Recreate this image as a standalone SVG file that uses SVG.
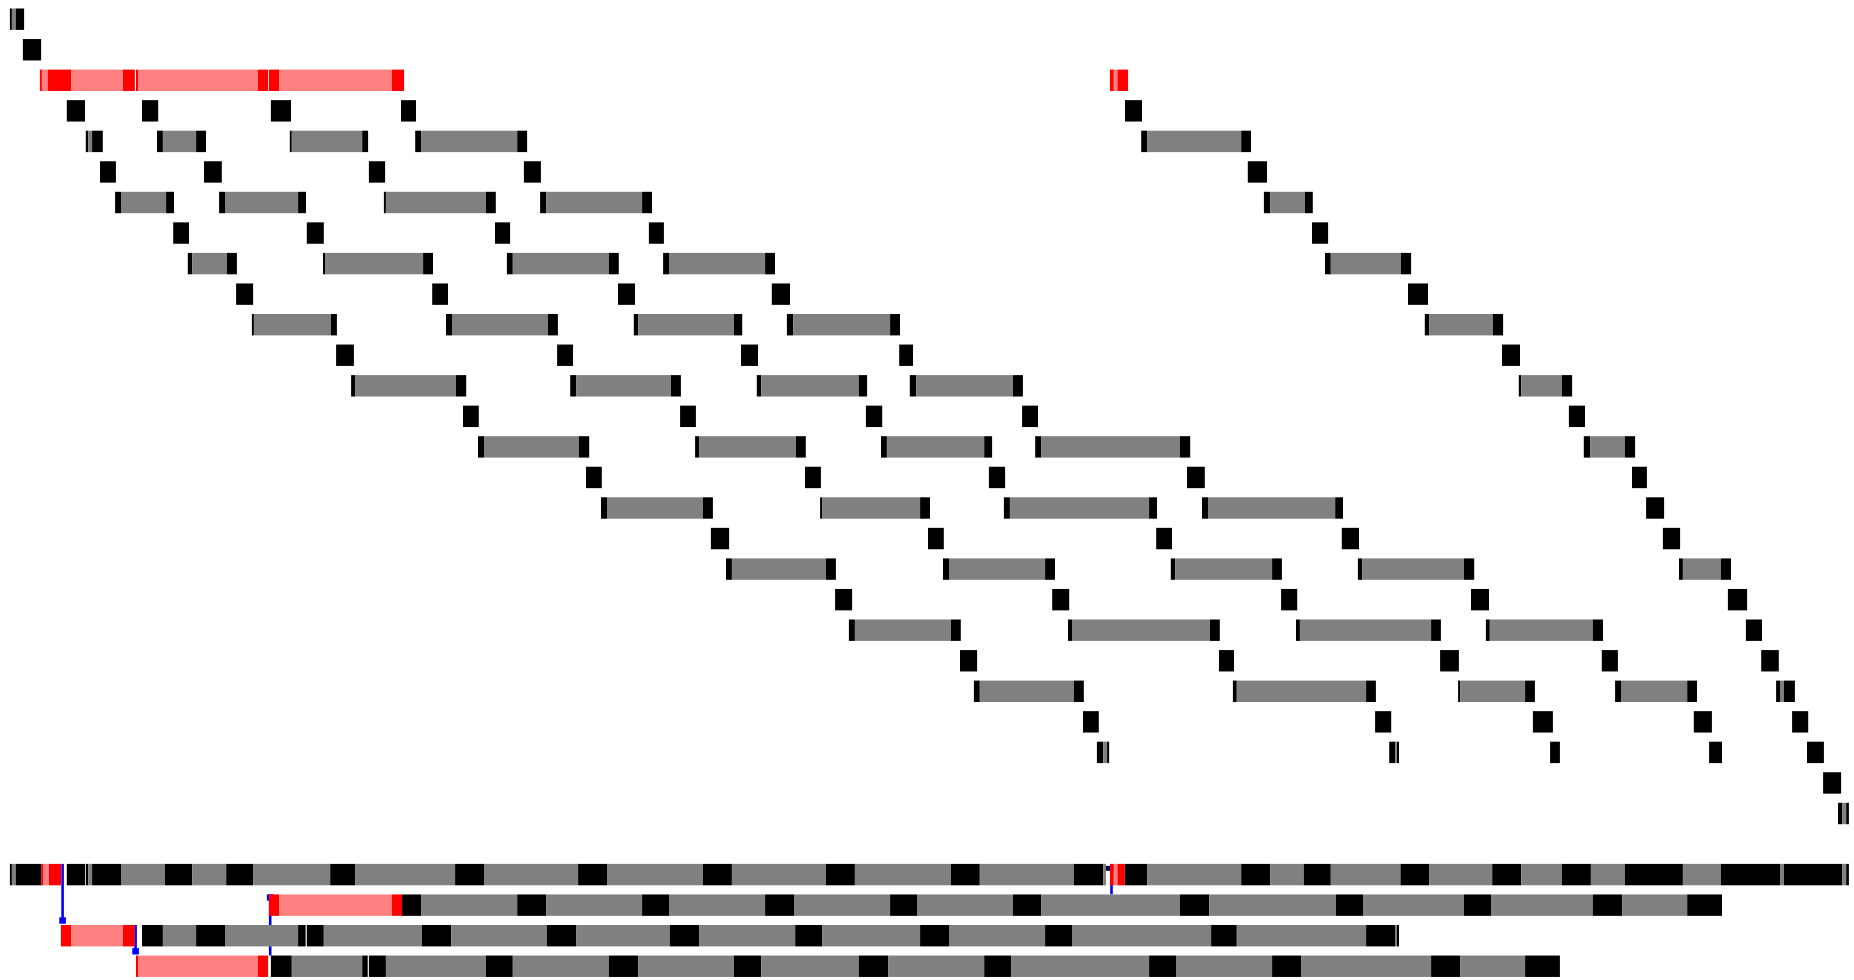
<svg xmlns="http://www.w3.org/2000/svg" width="1854" height="980" viewBox="0 0 1854 980">
<style>
.k{fill:#000}.g{fill:#808080}.r{fill:#ff0000}.p{fill:#ff8080}
.lnk line{stroke:#0000ff;stroke-width:2.6}
.lnk rect{fill:#0000ff}
.lnk rect.mk{fill:#000}
</style>
<rect width="1854" height="980" fill="#fff"/>
<g id="connectors" class="lnk">
<line x1="62.6" y1="863.9" x2="62.6" y2="920.5"/><rect x="59.3" y="917.3" width="6.6" height="6.4"/>
<line x1="135.6" y1="925" x2="135.6" y2="951.3"/><rect x="132.3" y="948.1" width="6.6" height="6.4"/>
<line x1="270.2" y1="955.5" x2="270.2" y2="897.5"/><rect x="266.9" y="894.3" width="6.6" height="6.4"/>
<rect class="mk" x="1105.9" y="865.9" width="6" height="4.8"/>
<line x1="1111.5" y1="894.4" x2="1111.5" y2="868.4"/><rect x="1108.7" y="865.9" width="6.4" height="4.8"/>
</g>
<g id="row-0" transform="translate(0,8.5)"><rect class="k" x="9.9" width="2" height="21.4"/><rect class="g" x="11.9" width="3.9" height="21.4"/><rect class="k" x="15.8" width="8.3" height="21.4"/></g>
<g id="row-1" transform="translate(0,39.05)"><rect class="k" x="22.9" width="18.2" height="21.4"/></g>
<g id="row-2" transform="translate(0,69.6)"><rect class="r" x="39.9" width="2" height="21.4"/><rect class="p" x="41.9" width="5.9" height="21.4"/><rect class="r" x="47.8" width="23.4" height="21.4"/><rect class="p" x="71.2" width="51.8" height="21.4"/><rect class="r" x="123" width="11.8" height="21.4"/><rect class="r" x="136" width="2" height="21.4"/><rect class="p" x="138" width="119.8" height="21.4"/><rect class="r" x="257.8" width="10.3" height="21.4"/><rect class="r" x="268.9" width="10.3" height="21.4"/><rect class="p" x="279.2" width="112.7" height="21.4"/><rect class="r" x="391.9" width="12.2" height="21.4"/><rect class="r" x="1109.9" width="3.9" height="21.4"/><rect class="p" x="1113.8" width="3.6" height="21.4"/><rect class="r" x="1117.4" width="10.7" height="21.4"/></g>
<g id="row-3" transform="translate(0,100.15)"><rect class="k" x="66.8" width="18.2" height="21.4"/><rect class="k" x="142" width="16.2" height="21.4"/><rect class="k" x="270.9" width="20.1" height="21.4"/><rect class="k" x="401" width="15" height="21.4"/><rect class="k" x="1125" width="17" height="21.4"/></g>
<g id="row-4" transform="translate(0,130.7)"><rect class="k" x="85.8" width="2.4" height="21.4"/><rect class="g" x="88.2" width="3.9" height="21.4"/><rect class="k" x="92.1" width="10.7" height="21.4"/><rect class="k" x="157" width="5.9" height="21.4"/><rect class="g" x="162.9" width="33.2" height="21.4"/><rect class="k" x="196.1" width="9.9" height="21.4"/><rect class="k" x="289.8" width="2" height="21.4"/><rect class="g" x="291.8" width="70.4" height="21.4"/><rect class="k" x="362.2" width="5.9" height="21.4"/><rect class="k" x="415.2" width="5.9" height="21.4"/><rect class="g" x="421.1" width="96.1" height="21.4"/><rect class="k" x="517.2" width="9.9" height="21.4"/><rect class="k" x="1141.2" width="5.9" height="21.4"/><rect class="g" x="1147.1" width="94.1" height="21.4"/><rect class="k" x="1241.2" width="9.8" height="21.4"/></g>
<g id="row-5" transform="translate(0,161.25)"><rect class="k" x="100" width="15.9" height="21.4"/><rect class="k" x="204" width="17.8" height="21.4"/><rect class="k" x="368.9" width="16.2" height="21.4"/><rect class="k" x="523.9" width="17" height="21.4"/><rect class="k" x="1247.8" width="19.2" height="21.4"/></g>
<g id="row-6" transform="translate(0,191.8)"><rect class="k" x="115.1" width="5.9" height="21.4"/><rect class="g" x="121" width="45.1" height="21.4"/><rect class="k" x="166.1" width="7.9" height="21.4"/><rect class="k" x="219.1" width="5.9" height="21.4"/><rect class="g" x="225" width="73.1" height="21.4"/><rect class="k" x="298.1" width="7.9" height="21.4"/><rect class="k" x="383.9" width="2" height="21.4"/><rect class="g" x="385.9" width="100.1" height="21.4"/><rect class="k" x="486" width="9.8" height="21.4"/><rect class="k" x="540.1" width="6" height="21.4"/><rect class="g" x="546.1" width="96" height="21.4"/><rect class="k" x="642.1" width="9.9" height="21.4"/><rect class="k" x="1263.9" width="6.3" height="21.4"/><rect class="g" x="1270.2" width="34.8" height="21.4"/><rect class="k" x="1305" width="7.8" height="21.4"/></g>
<g id="row-7" transform="translate(0,222.35)"><rect class="k" x="173.2" width="15.8" height="21.4"/><rect class="k" x="306.8" width="17" height="21.4"/><rect class="k" x="495" width="15.1" height="21.4"/><rect class="k" x="648.9" width="15" height="21.4"/><rect class="k" x="1312" width="16.1" height="21.4"/></g>
<g id="row-8" transform="translate(0,252.9)"><rect class="k" x="187.8" width="4.4" height="21.4"/><rect class="g" x="192.2" width="34.8" height="21.4"/><rect class="k" x="227" width="9.9" height="21.4"/><rect class="k" x="323" width="2" height="21.4"/><rect class="g" x="325" width="98.1" height="21.4"/><rect class="k" x="423.1" width="9.9" height="21.4"/><rect class="k" x="506.9" width="5.9" height="21.4"/><rect class="g" x="512.8" width="96.1" height="21.4"/><rect class="k" x="608.9" width="9.9" height="21.4"/><rect class="k" x="663.1" width="5.9" height="21.4"/><rect class="g" x="669" width="96.1" height="21.4"/><rect class="k" x="765.1" width="9.9" height="21.4"/><rect class="k" x="1325" width="5.8" height="21.4"/><rect class="g" x="1330.8" width="70.1" height="21.4"/><rect class="k" x="1400.9" width="10.2" height="21.4"/></g>
<g id="row-9" transform="translate(0,283.45)"><rect class="k" x="236.1" width="17" height="21.4"/><rect class="k" x="432.2" width="15.8" height="21.4"/><rect class="k" x="618" width="17" height="21.4"/><rect class="k" x="771.8" width="18.2" height="21.4"/><rect class="k" x="1408" width="20" height="21.4"/></g>
<g id="row-10" transform="translate(0,314)"><rect class="k" x="251.9" width="2" height="21.4"/><rect class="g" x="253.9" width="77.1" height="21.4"/><rect class="k" x="331" width="5.9" height="21.4"/><rect class="k" x="446" width="6" height="21.4"/><rect class="g" x="452" width="96" height="21.4"/><rect class="k" x="548" width="9.9" height="21.4"/><rect class="k" x="633.8" width="4.4" height="21.4"/><rect class="g" x="638.2" width="95.7" height="21.4"/><rect class="k" x="733.9" width="8.3" height="21.4"/><rect class="k" x="786.9" width="6.3" height="21.4"/><rect class="g" x="793.2" width="96.9" height="21.4"/><rect class="k" x="890.1" width="9.9" height="21.4"/><rect class="k" x="1424.8" width="4.3" height="21.4"/><rect class="g" x="1429.1" width="63.9" height="21.4"/><rect class="k" x="1493" width="10.1" height="21.4"/></g>
<g id="row-11" transform="translate(0,344.55)"><rect class="k" x="336.1" width="17.8" height="21.4"/><rect class="k" x="557.1" width="15.9" height="21.4"/><rect class="k" x="741" width="17" height="21.4"/><rect class="k" x="899.2" width="13.8" height="21.4"/><rect class="k" x="1502" width="18" height="21.4"/></g>
<g id="row-12" transform="translate(0,375.1)"><rect class="k" x="351.1" width="4" height="21.4"/><rect class="g" x="355.1" width="100.8" height="21.4"/><rect class="k" x="455.9" width="10.3" height="21.4"/><rect class="k" x="570.2" width="5.9" height="21.4"/><rect class="g" x="576.1" width="94.9" height="21.4"/><rect class="k" x="671" width="9.9" height="21.4"/><rect class="k" x="756.8" width="4.4" height="21.4"/><rect class="g" x="761.2" width="97.6" height="21.4"/><rect class="k" x="858.8" width="8.3" height="21.4"/><rect class="k" x="909.8" width="6.4" height="21.4"/><rect class="g" x="916.2" width="96.8" height="21.4"/><rect class="k" x="1013" width="9.9" height="21.4"/><rect class="k" x="1518.8" width="2.4" height="21.4"/><rect class="g" x="1521.2" width="40.7" height="21.4"/><rect class="k" x="1561.9" width="10.2" height="21.4"/></g>
<g id="row-13" transform="translate(0,405.65)"><rect class="k" x="463" width="15.8" height="21.4"/><rect class="k" x="680.1" width="15.8" height="21.4"/><rect class="k" x="865.9" width="16.3" height="21.4"/><rect class="k" x="1022.1" width="15.9" height="21.4"/><rect class="k" x="1568.9" width="16.1" height="21.4"/></g>
<g id="row-14" transform="translate(0,436.2)"><rect class="k" x="478" width="6" height="21.4"/><rect class="g" x="484" width="94.9" height="21.4"/><rect class="k" x="578.9" width="10.3" height="21.4"/><rect class="k" x="695.1" width="4" height="21.4"/><rect class="g" x="699.1" width="96.9" height="21.4"/><rect class="k" x="796" width="9.8" height="21.4"/><rect class="k" x="881" width="5.9" height="21.4"/><rect class="g" x="886.9" width="97.3" height="21.4"/><rect class="k" x="984.2" width="7.9" height="21.4"/><rect class="k" x="1035.2" width="5.9" height="21.4"/><rect class="g" x="1041.1" width="138.8" height="21.4"/><rect class="k" x="1179.9" width="10.3" height="21.4"/><rect class="k" x="1583.8" width="6.3" height="21.4"/><rect class="g" x="1590.1" width="34.8" height="21.4"/><rect class="k" x="1624.9" width="10.2" height="21.4"/></g>
<g id="row-15" transform="translate(0,466.75)"><rect class="k" x="586" width="15.8" height="21.4"/><rect class="k" x="805" width="15.9" height="21.4"/><rect class="k" x="988.9" width="16.2" height="21.4"/><rect class="k" x="1187" width="17.8" height="21.4"/><rect class="k" x="1632" width="14.9" height="21.4"/></g>
<g id="row-16" transform="translate(0,497.3)"><rect class="k" x="601" width="6" height="21.4"/><rect class="g" x="607" width="96" height="21.4"/><rect class="k" x="703" width="9.9" height="21.4"/><rect class="k" x="820.1" width="2" height="21.4"/><rect class="g" x="822.1" width="98" height="21.4"/><rect class="k" x="920.1" width="9.9" height="21.4"/><rect class="k" x="1003.9" width="6" height="21.4"/><rect class="g" x="1009.9" width="139.2" height="21.4"/><rect class="k" x="1149.1" width="7.9" height="21.4"/><rect class="k" x="1202" width="6" height="21.4"/><rect class="g" x="1208" width="127.2" height="21.4"/><rect class="k" x="1335.2" width="7.8" height="21.4"/><rect class="k" x="1646.1" width="18" height="21.4"/></g>
<g id="row-17" transform="translate(0,527.85)"><rect class="k" x="710.9" width="18.2" height="21.4"/><rect class="k" x="928" width="15.8" height="21.4"/><rect class="k" x="1156.2" width="15.8" height="21.4"/><rect class="k" x="1341.8" width="17.2" height="21.4"/><rect class="k" x="1662.9" width="17.2" height="21.4"/></g>
<g id="row-18" transform="translate(0,558.4)"><rect class="k" x="726" width="5.9" height="21.4"/><rect class="g" x="731.9" width="94.1" height="21.4"/><rect class="k" x="826" width="9.9" height="21.4"/><rect class="k" x="943" width="6" height="21.4"/><rect class="g" x="949" width="96.1" height="21.4"/><rect class="k" x="1045.1" width="9.9" height="21.4"/><rect class="k" x="1170.8" width="4.4" height="21.4"/><rect class="g" x="1175.2" width="96.9" height="21.4"/><rect class="k" x="1272.1" width="9.8" height="21.4"/><rect class="k" x="1357.9" width="4.3" height="21.4"/><rect class="g" x="1362.2" width="101.8" height="21.4"/><rect class="k" x="1464" width="10.2" height="21.4"/><rect class="k" x="1679" width="3.9" height="21.4"/><rect class="g" x="1682.9" width="38" height="21.4"/><rect class="k" x="1720.9" width="10.1" height="21.4"/></g>
<g id="row-19" transform="translate(0,588.95)"><rect class="k" x="835.1" width="17" height="21.4"/><rect class="k" x="1052.2" width="17" height="21.4"/><rect class="k" x="1281.1" width="16.1" height="21.4"/><rect class="k" x="1471" width="18" height="21.4"/><rect class="k" x="1727.9" width="19.2" height="21.4"/></g>
<g id="row-20" transform="translate(0,619.5)"><rect class="k" x="848.9" width="6" height="21.4"/><rect class="g" x="854.9" width="96.1" height="21.4"/><rect class="k" x="951" width="9.8" height="21.4"/><rect class="k" x="1068" width="4" height="21.4"/><rect class="g" x="1072" width="138" height="21.4"/><rect class="k" x="1210" width="9.8" height="21.4"/><rect class="k" x="1296" width="3.9" height="21.4"/><rect class="g" x="1299.9" width="131.2" height="21.4"/><rect class="k" x="1431.1" width="9.8" height="21.4"/><rect class="k" x="1485.9" width="3.9" height="21.4"/><rect class="g" x="1489.8" width="103" height="21.4"/><rect class="k" x="1592.8" width="10.2" height="21.4"/><rect class="k" x="1745.9" width="16.1" height="21.4"/></g>
<g id="row-21" transform="translate(0,650.05)"><rect class="k" x="960" width="17.1" height="21.4"/><rect class="k" x="1219" width="15" height="21.4"/><rect class="k" x="1440.1" width="18.8" height="21.4"/><rect class="k" x="1601.8" width="16.1" height="21.4"/><rect class="k" x="1761.2" width="17.6" height="21.4"/></g>
<g id="row-22" transform="translate(0,680.6)"><rect class="k" x="973.9" width="5.9" height="21.4"/><rect class="g" x="979.8" width="94.1" height="21.4"/><rect class="k" x="1073.9" width="9.9" height="21.4"/><rect class="k" x="1232.9" width="3.9" height="21.4"/><rect class="g" x="1236.8" width="129.3" height="21.4"/><rect class="k" x="1366.1" width="9.8" height="21.4"/><rect class="k" x="1458.1" width="2" height="21.4"/><rect class="g" x="1460.1" width="65" height="21.4"/><rect class="k" x="1525.1" width="9.8" height="21.4"/><rect class="k" x="1615.1" width="5.9" height="21.4"/><rect class="g" x="1621" width="66.2" height="21.4"/><rect class="k" x="1687.2" width="9.8" height="21.4"/><rect class="k" x="1776.1" width="3.9" height="21.4"/><rect class="g" x="1780" width="3.9" height="21.4"/><rect class="k" x="1783.9" width="11" height="21.4"/></g>
<g id="row-23" transform="translate(0,711.15)"><rect class="k" x="1083" width="15.8" height="21.4"/><rect class="k" x="1375.1" width="16.1" height="21.4"/><rect class="k" x="1532.9" width="20" height="21.4"/><rect class="k" x="1693.8" width="18.1" height="21.4"/><rect class="k" x="1792.1" width="16.1" height="21.4"/></g>
<g id="row-24" transform="translate(0,741.7)"><rect class="k" x="1096.9" width="6.3" height="21.4"/><rect class="g" x="1103.2" width="3.9" height="21.4"/><rect class="k" x="1107.1" width="2" height="21.4"/><rect class="k" x="1389.2" width="5.9" height="21.4"/><rect class="g" x="1395.1" width="1.9" height="21.4"/><rect class="k" x="1397" width="2" height="21.4"/><rect class="k" x="1550.1" width="9.8" height="21.4"/><rect class="k" x="1709.1" width="12.9" height="21.4"/><rect class="k" x="1807" width="16.9" height="21.4"/></g>
<g id="row-25" transform="translate(0,772.25)"><rect class="k" x="1823.1" width="18" height="21.4"/></g>
<g id="row-26" transform="translate(0,802.8)"><rect class="k" x="1838" width="4.3" height="21.4"/><rect class="g" x="1842.3" width="3.9" height="21.4"/><rect class="k" x="1846.2" width="2.7" height="21.4"/></g>
<g id="lane-a" transform="translate(0,863.9)"><rect class="k" x="9.9" width="2" height="21.4"/><rect class="g" x="11.9" width="3.9" height="21.4"/><rect class="k" x="15.8" width="25.3" height="21.4"/><rect class="r" x="41.1" width="2" height="21.4"/><rect class="p" x="43.1" width="5.9" height="21.4"/><rect class="r" x="49" width="12.3" height="21.4"/><rect class="k" x="66.8" width="18.2" height="21.4"/><rect class="k" x="85.8" width="2.4" height="21.4"/><rect class="g" x="88.2" width="3.9" height="21.4"/><rect class="k" x="92.1" width="28.9" height="21.4"/><rect class="g" x="121" width="43.9" height="21.4"/><rect class="k" x="164.9" width="27.3" height="21.4"/><rect class="g" x="192.2" width="34" height="21.4"/><rect class="k" x="226.2" width="26.9" height="21.4"/><rect class="g" x="253.1" width="77.1" height="21.4"/><rect class="k" x="330.2" width="24.9" height="21.4"/><rect class="g" x="355.1" width="100" height="21.4"/><rect class="k" x="455.1" width="28.9" height="21.4"/><rect class="g" x="484" width="94.1" height="21.4"/><rect class="k" x="578.1" width="28.9" height="21.4"/><rect class="g" x="607" width="96" height="21.4"/><rect class="k" x="703" width="28.9" height="21.4"/><rect class="g" x="731.9" width="94.1" height="21.4"/><rect class="k" x="826" width="28.9" height="21.4"/><rect class="g" x="854.9" width="96.1" height="21.4"/><rect class="k" x="951" width="28.8" height="21.4"/><rect class="g" x="979.8" width="94.1" height="21.4"/><rect class="k" x="1073.9" width="29.3" height="21.4"/><rect class="g" x="1103.2" width="2.8" height="21.4"/><rect class="r" x="1110" width="3.8" height="21.4"/><rect class="p" x="1113.8" width="3.6" height="21.4"/><rect class="r" x="1117.4" width="7.4" height="21.4"/><rect class="k" x="1124.8" width="22.3" height="21.4"/><rect class="g" x="1147.1" width="94.1" height="21.4"/><rect class="k" x="1241.2" width="29" height="21.4"/><rect class="g" x="1270.2" width="33.6" height="21.4"/><rect class="k" x="1303.8" width="27" height="21.4"/><rect class="g" x="1330.8" width="69.7" height="21.4"/><rect class="k" x="1400.5" width="28.6" height="21.4"/><rect class="g" x="1429.1" width="63.1" height="21.4"/><rect class="k" x="1492.2" width="29" height="21.4"/><rect class="g" x="1521.2" width="40.7" height="21.4"/><rect class="k" x="1561.9" width="29" height="21.4"/><rect class="g" x="1590.9" width="34" height="21.4"/><rect class="k" x="1624.9" width="58" height="21.4"/><rect class="g" x="1682.9" width="38" height="21.4"/><rect class="k" x="1720.9" width="59.1" height="21.4"/><rect class="g" x="1780" width="3.9" height="21.4"/><rect class="k" x="1783.9" width="58.4" height="21.4"/><rect class="g" x="1842.3" width="3.9" height="21.4"/><rect class="k" x="1846.2" width="2.7" height="21.4"/></g>
<g id="lane-b" transform="translate(0,894.45)"><rect class="r" x="268.9" width="10.3" height="21.4"/><rect class="p" x="279.2" width="112.7" height="21.4"/><rect class="r" x="391.9" width="10.2" height="21.4"/><rect class="k" x="402.1" width="19" height="21.4"/><rect class="g" x="421.1" width="96.1" height="21.4"/><rect class="k" x="517.2" width="28.9" height="21.4"/><rect class="g" x="546.1" width="96" height="21.4"/><rect class="k" x="642.1" width="26.9" height="21.4"/><rect class="g" x="669" width="96.1" height="21.4"/><rect class="k" x="765.1" width="28.9" height="21.4"/><rect class="g" x="794" width="96.1" height="21.4"/><rect class="k" x="890.1" width="26.9" height="21.4"/><rect class="g" x="917" width="96" height="21.4"/><rect class="k" x="1013" width="28.1" height="21.4"/><rect class="g" x="1041.1" width="138.8" height="21.4"/><rect class="k" x="1179.9" width="29.3" height="21.4"/><rect class="g" x="1209.2" width="126.7" height="21.4"/><rect class="k" x="1335.9" width="27.1" height="21.4"/><rect class="g" x="1363" width="101" height="21.4"/><rect class="k" x="1464" width="27" height="21.4"/><rect class="g" x="1491" width="101.8" height="21.4"/><rect class="k" x="1592.8" width="29.4" height="21.4"/><rect class="g" x="1622.2" width="65" height="21.4"/><rect class="k" x="1687.2" width="34.8" height="21.4"/></g>
<g id="lane-c" transform="translate(0,925)"><rect class="r" x="60.9" width="10.3" height="21.4"/><rect class="p" x="71.2" width="51.8" height="21.4"/><rect class="r" x="123" width="11.8" height="21.4"/><rect class="k" x="142" width="20.9" height="21.4"/><rect class="g" x="162.9" width="33.2" height="21.4"/><rect class="k" x="196.1" width="28.9" height="21.4"/><rect class="g" x="225" width="73.1" height="21.4"/><rect class="k" x="298.1" width="7.5" height="21.4"/><rect class="k" x="306.8" width="17" height="21.4"/><rect class="g" x="323.8" width="98.1" height="21.4"/><rect class="k" x="421.9" width="29.3" height="21.4"/><rect class="g" x="451.2" width="95.7" height="21.4"/><rect class="k" x="546.9" width="29.2" height="21.4"/><rect class="g" x="576.1" width="93.7" height="21.4"/><rect class="k" x="669.8" width="29.3" height="21.4"/><rect class="g" x="699.1" width="96.1" height="21.4"/><rect class="k" x="795.2" width="26.9" height="21.4"/><rect class="g" x="822.1" width="98" height="21.4"/><rect class="k" x="920.1" width="28.9" height="21.4"/><rect class="g" x="949" width="96.1" height="21.4"/><rect class="k" x="1045.1" width="26.9" height="21.4"/><rect class="g" x="1072" width="139.1" height="21.4"/><rect class="k" x="1211.1" width="25.7" height="21.4"/><rect class="g" x="1236.8" width="129.3" height="21.4"/><rect class="k" x="1366.1" width="29.4" height="21.4"/><rect class="g" x="1395.5" width="1.5" height="21.4"/><rect class="k" x="1397" width="2" height="21.4"/></g>
<g id="lane-d" transform="translate(0,955.55)"><rect class="r" x="136" width="2" height="21.4"/><rect class="p" x="138" width="119.8" height="21.4"/><rect class="r" x="257.8" width="10.3" height="21.4"/><rect class="k" x="270.9" width="20.9" height="21.4"/><rect class="g" x="291.8" width="70.4" height="21.4"/><rect class="k" x="362.2" width="5.5" height="21.4"/><rect class="k" x="368.9" width="17" height="21.4"/><rect class="g" x="385.9" width="100.1" height="21.4"/><rect class="k" x="486" width="26.8" height="21.4"/><rect class="g" x="512.8" width="96.1" height="21.4"/><rect class="k" x="608.9" width="29.3" height="21.4"/><rect class="g" x="638.2" width="95.7" height="21.4"/><rect class="k" x="733.9" width="27.3" height="21.4"/><rect class="g" x="761.2" width="97.6" height="21.4"/><rect class="k" x="858.8" width="29.3" height="21.4"/><rect class="g" x="888.1" width="96.1" height="21.4"/><rect class="k" x="984.2" width="26.9" height="21.4"/><rect class="g" x="1011.1" width="138" height="21.4"/><rect class="k" x="1149.1" width="26.9" height="21.4"/><rect class="g" x="1176" width="96.1" height="21.4"/><rect class="k" x="1272.1" width="29" height="21.4"/><rect class="g" x="1301.1" width="130" height="21.4"/><rect class="k" x="1431.1" width="29" height="21.4"/><rect class="g" x="1460.1" width="65" height="21.4"/><rect class="k" x="1525.1" width="34.8" height="21.4"/></g>
</svg>
